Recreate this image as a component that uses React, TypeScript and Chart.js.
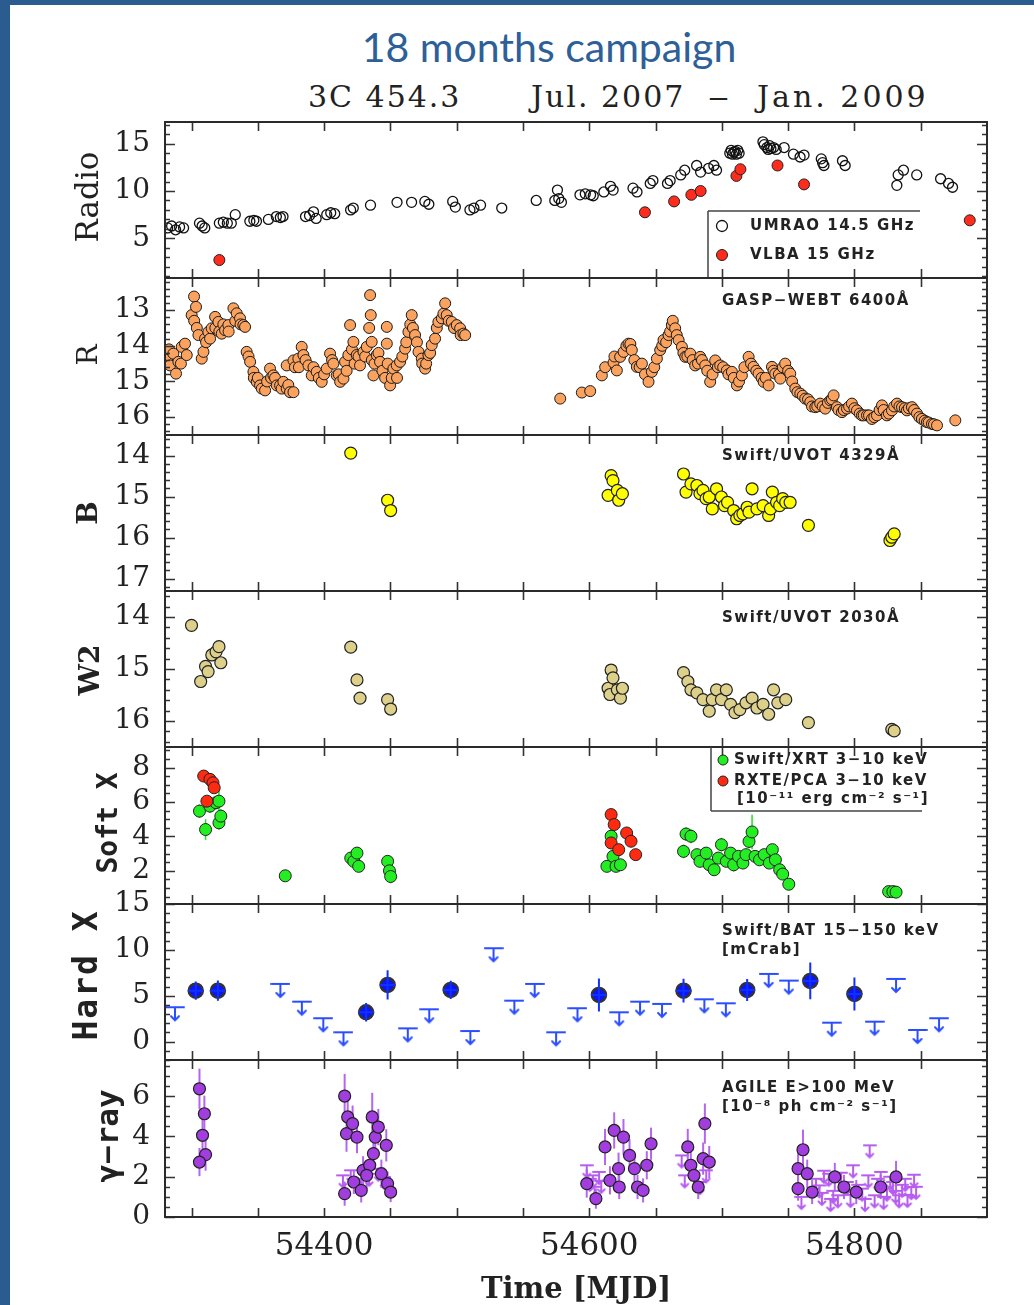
import { useEffect, useRef } from 'react';
import { Chart, registerables } from 'chart.js';

Chart.register(...registerables);

// ---- time axis (MJD) ----
const MJD_MIN = 54280;
const MJD_MAX = 54900;
const MJD_TICK_STEP = 50;
const MJD_LABELS = [54400, 54600, 54800];

// ---- Radio: UMRAO 14.5 GHz [MJD, Jy] ----
const umrao: number[][] = [
  [54282, 6.1], [54285, 6.3], [54288, 5.9], [54291, 6.2], [54294, 6.1], [54306, 6.6], [54308, 6.3], [54310, 6.1],
  [54321, 6.6], [54324, 6.7], [54327, 6.6], [54330, 6.6], [54333, 7.5], [54344, 6.8], [54347, 6.9], [54349, 6.8],
  [54358, 7.0], [54364, 7.3], [54367, 7.2], [54369, 7.3], [54386, 7.3], [54389, 7.4], [54392, 7.8], [54394, 7.1],
  [54402, 7.5], [54405, 7.7], [54408, 7.6], [54420, 8.0], [54422, 8.2], [54435, 8.5], [54455, 8.8], [54466, 8.8],
  [54476, 8.9], [54479, 8.6], [54497, 8.9], [54499, 8.3], [54510, 8.0], [54513, 8.2], [54518, 8.5], [54534, 8.2],
  [54560, 9.0], [54574, 9.0], [54576, 10.1], [54577, 9.2], [54579, 8.8], [54593, 9.6], [54597, 9.7], [54601, 9.6],
  [54603, 9.5], [54611, 9.9], [54616, 10.5], [54618, 10.1], [54633, 10.3], [54636, 9.9], [54646, 10.8], [54648, 11.1],
  [54659, 10.8], [54661, 11.1], [54669, 11.7], [54672, 12.2], [54681, 12.7], [54684, 12.0], [54690, 12.4], [54694, 12.7],
  [54696, 12.2], [54706, 14.0], [54707, 14.3], [54708, 13.9], [54709, 14.1], [54710, 14.2], [54711, 13.9], [54712, 14.3],
  [54713, 14.0], [54731, 15.2], [54732, 14.9], [54734, 14.6], [54735, 14.4], [54736, 14.8], [54737, 14.5], [54739, 14.6],
  [54741, 14.4], [54747, 14.6], [54754, 13.9], [54759, 13.6], [54762, 13.8], [54775, 13.4], [54776, 13.0], [54777, 12.7],
  [54791, 13.2], [54793, 12.7], [54832, 10.6], [54833, 11.7], [54837, 12.2], [54847, 11.7], [54865, 11.3], [54871, 10.8],
  [54874, 10.4],
];

// ---- Radio: VLBA 15 GHz [MJD, Jy] ----
const vlba: number[][] = [
  [54321, 2.7], [54642, 7.75], [54664, 8.9], [54677, 9.6], [54684, 10.0], [54711, 11.6], [54714, 12.3],
  [54742, 12.7], [54762, 10.7], [54887, 6.9],
];

// ---- Optical R (GASP-WEBT) [MJD, mag] ----
const rBand: number[][] = [
  [54281.8, 14.36], [54283.8, 14.55], [54283, 14.1], [54286.3, 14.22], [54288.3, 14.78], [54290.1, 14.45], [54292, 14.5],
  [54292.6, 14.03], [54295.1, 13.94], [54296.4, 14.26], [54300.1, 13.14], [54301.9, 12.62], [54302, 13.3], [54303.4, 12.91],
  [54304, 13.5], [54305.2, 13.7], [54307.7, 14.36], [54309.0, 14.17], [54310.2, 13.8], [54311, 13.9], [54312.7, 13.61],
  [54314, 13.8], [54315.2, 13.51], [54317.8, 13.19], [54318, 13.5], [54320.3, 13.33], [54321, 13.6], [54322.8, 13.66],
  [54324, 13.4], [54325.3, 13.56], [54327.8, 13.42], [54328, 13.6], [54331.6, 12.95], [54333, 13.3], [54334.1, 13.09],
  [54336.6, 13.23], [54337, 13.4], [54339.1, 13.42], [54340.4, 13.47],
  [54341.6, 14.17], [54343, 14.3], [54344.2, 14.45], [54346.7, 14.73], [54347, 14.9], [54349.2, 15.01], [54350, 14.9],
  [54351.7, 15.11], [54353, 15.2], [54355.5, 15.25], [54357, 15.0], [54359.2, 14.64], [54360, 14.9], [54361.8, 14.83],
  [54363, 14.9], [54364.3, 15.11], [54366.8, 15.11], [54368, 15.2], [54369.3, 15.01], [54371.8, 15.2], [54371.8, 14.55],
  [54373, 15.1], [54374.3, 15.3], [54376.9, 15.3], [54376.9, 14.41], [54378, 14.6], [54380.6, 14.36], [54381, 14.6],
  [54383.1, 14.03], [54384.4, 14.26], [54386, 14.4], [54388.2, 14.55], [54390.7, 14.83], [54392, 14.6], [54394.4, 14.73],
  [54396, 14.9], [54398.2, 15.01], [54400, 14.8], [54402.0, 14.64], [54404.5, 14.22], [54406, 14.4], [54407.0, 14.5],
  [54409.5, 14.83], [54411, 14.8], [54412.1, 15.01], [54414.6, 14.92], [54415.8, 14.45], [54417, 14.7], [54418.3, 14.26],
  [54419.6, 13.42], [54421, 14.1], [54422.1, 13.89], [54423, 14.5], [54424.6, 14.26], [54426, 14.3], [54427.1, 14.55],
  [54429.7, 14.17], [54431, 14.3], [54432.2, 14.03], [54434, 13.5], [54434.7, 12.58], [54435.2, 13.14], [54435.9, 13.89],
  [54436, 14.4], [54437.2, 14.83], [54438, 14.5], [54439.7, 14.26], [54441, 14.2], [54442.2, 14.45], [54444, 14.7],
  [54446, 14.9], [54447.3, 13.47], [54447.3, 13.94], [54448, 14.5], [54449.8, 15.11], [54451, 14.9], [54452.3, 14.64],
  [54454.8, 14.55], [54455, 14.9], [54457.3, 14.45], [54459, 14.3], [54461.1, 14.08], [54462, 13.9], [54463.6, 13.61],
  [54465, 13.4], [54466.1, 13.14], [54467, 13.5], [54468.6, 13.7], [54470, 13.9], [54471.2, 14.17], [54473.7, 14.36],
  [54474, 14.5], [54476.2, 14.64], [54477, 14.5], [54478.7, 14.26], [54480, 14.2], [54481.2, 13.98], [54483.7, 13.8],
  [54485, 13.5], [54486.2, 13.33], [54488.8, 13.23], [54490, 13.1], [54491.3, 12.81], [54492.5, 13.14], [54494, 13.3],
  [54496.3, 13.33], [54498, 13.5], [54500.1, 13.42], [54502.6, 13.51], [54503, 13.7], [54505.1, 13.66], [54506.4, 13.7],
  [54578.1, 15.48], [54594.4, 15.31], [54600.7, 15.27], [54609.5, 14.83], [54612, 14.6], [54618.3, 14.47], [54619, 14.3],
  [54620.8, 14.69], [54623.3, 14.31], [54625.9, 14.17], [54628, 14.0], [54629.6, 13.94], [54631, 13.95], [54632.1, 14.12],
  [54634, 14.4], [54635.9, 14.59], [54638, 14.6], [54639.7, 14.5], [54642, 14.8], [54644.7, 15.01], [54647.2, 14.73],
  [54649, 14.6], [54651.0, 14.36], [54653.5, 14.12], [54655, 14.0], [54656.0, 13.84], [54658, 13.9], [54659.8, 13.7],
  [54661, 13.6], [54662.3, 13.42], [54663, 13.3], [54664.8, 13.51], [54666, 13.7], [54667.4, 13.84], [54669.9, 14.03],
  [54671, 14.2], [54672.4, 14.31], [54674, 14.3], [54676.2, 14.22], [54678, 14.4], [54679.9, 14.55], [54682, 14.5],
  [54683.7, 14.31], [54685, 14.4], [54687.5, 14.55], [54689, 14.7], [54691.2, 15.01], [54693, 14.8], [54695.0, 14.41],
  [54697, 14.6], [54698.8, 14.55], [54701, 14.6], [54703.8, 14.69], [54705, 14.8], [54707.6, 14.73], [54709, 14.9],
  [54711.4, 15.11], [54713, 15.0], [54715.1, 14.83], [54717, 14.6], [54720.2, 14.31], [54722, 14.5], [54723.9, 14.59],
  [54726, 14.7], [54727.7, 14.78], [54730, 14.9], [54731.5, 15.01], [54733, 14.9], [54735.3, 15.11], [54737.8, 14.59],
  [54739, 14.7], [54740.3, 14.78], [54743, 14.8], [54744.1, 14.92], [54746, 14.6], [54747.8, 14.5], [54750, 14.7],
  [54751.6, 14.78], [54753, 15.0], [54755.4, 15.2], [54757, 15.3], [54759.2, 15.34], [54761, 15.4], [54762.9, 15.48],
  [54765, 15.5], [54766.7, 15.58], [54768, 15.7], [54770.5, 15.72], [54772, 15.7], [54774.2, 15.62], [54776, 15.7],
  [54778.0, 15.76], [54780, 15.6], [54781.8, 15.53], [54783, 15.5], [54784.3, 15.39], [54786.8, 15.72], [54788, 15.8],
  [54790.6, 15.86], [54792, 15.8], [54794.4, 15.76], [54796, 15.7], [54798.1, 15.62], [54800, 15.75], [54801.9, 15.81],
  [54804, 15.9], [54805.7, 15.95], [54807, 15.95], [54809.5, 15.95], [54811, 15.95], [54813.2, 16.05], [54815, 16.0],
  [54817.0, 15.95], [54819, 15.8], [54820.8, 15.67], [54822, 15.8], [54824.5, 15.95], [54826, 15.9], [54828.3, 15.81],
  [54830, 15.7], [54832.1, 15.62], [54834, 15.7], [54835.9, 15.72], [54838, 15.75], [54839.6, 15.81], [54841, 15.75],
  [54843.4, 15.72], [54845, 15.8], [54847.2, 15.9], [54849, 16.0], [54850.9, 16.05], [54853, 16.1], [54854.7, 16.14],
  [54856, 16.15], [54858.5, 16.19], [54860, 16.2], [54862.3, 16.23], [54876.1, 16.09],
];

// ---- Swift/UVOT B [MJD, mag] ----
const bBand: number[][] = [
  [54420.1, 13.94], [54447.9, 15.09], [54450.2, 15.34],
  [54614.2, 14.97], [54616.5, 14.49], [54617.9, 14.61], [54621.2, 14.85], [54622.2, 15.09], [54625.0, 14.93],
  [54671.1, 14.45], [54673.0, 14.89], [54676.7, 14.69], [54681.2, 14.73], [54683.5, 14.93], [54685.8, 14.85],
  [54688.1, 15.05], [54690.5, 15.01], [54692.8, 15.3], [54696.0, 14.81], [54699.7, 15.01], [54702.0, 15.22],
  [54704.3, 15.14], [54708.9, 15.34], [54711.2, 15.54], [54713.6, 15.46], [54715.9, 15.42], [54719.1, 15.26],
  [54720.5, 15.38], [54722.8, 14.81], [54726.5, 15.3], [54731.1, 15.22], [54735.3, 15.46], [54736.7, 15.3],
  [54738.1, 14.89], [54741.3, 15.14], [54743.6, 15.22], [54745.9, 15.05], [54748.2, 15.14], [54751.5, 15.14],
  [54765.3, 15.7], [54826.8, 16.07], [54828.2, 15.99], [54830.0, 15.91],
];

// ---- Swift/UVOT W2 [MJD, mag] ----
const w2Band: number[][] = [
  [54300.0, 14.16], [54306.9, 15.24], [54310.6, 14.95], [54312.5, 15.05], [54315.3, 14.73], [54318.5, 14.67],
  [54320.7, 14.57], [54322.1, 14.88],
  [54420.1, 14.58], [54424.8, 15.21], [54427.1, 15.56], [54447.9, 15.59], [54450.2, 15.77],
  [54614.2, 15.37], [54615.6, 15.49], [54616.5, 15.02], [54617.9, 15.17], [54621.2, 15.4], [54623.5, 15.56], [54625.0, 15.37],
  [54671.1, 15.07], [54674.4, 15.24], [54676.7, 15.4], [54681.2, 15.46], [54685.8, 15.59], [54690.5, 15.81],
  [54692.8, 15.59], [54696.0, 15.4], [54699.7, 15.59], [54703.4, 15.4], [54706.6, 15.68], [54709.9, 15.84],
  [54713.6, 15.78], [54718.2, 15.65], [54722.8, 15.56], [54726.5, 15.75], [54731.1, 15.68], [54735.3, 15.87],
  [54739.0, 15.4], [54742.2, 15.65], [54748.2, 15.59], [54765.3, 16.03], [54828.2, 16.16], [54830.0, 16.19],
];

// ---- Soft X-rays, 3-10 keV [MJD, 1e-11 erg/cm2/s, error] ----
const xrtSoft: number[][] = [
  [54306.0, 5.47, 0.4], [54310.6, 4.4, 0.6], [54313.9, 5.76, 0.4], [54318.5, 5.96, 0.4], [54320.7, 6.05, 0.6],
  [54320.7, 4.79, 0.4], [54322.1, 5.18, 0.4], [54370.7, 1.71, 0.2],
  [54420.1, 2.74, 0.3], [54422.4, 2.55, 0.3], [54424.8, 3.03, 0.3], [54426.1, 2.26, 0.3],
  [54447.9, 2.55, 0.3], [54449.3, 2.0, 0.3], [54450.2, 1.67, 0.4],
  [54613.3, 2.26, 0.3], [54616.5, 4.01, 0.4], [54617.9, 2.84, 0.3], [54620.2, 2.26, 0.3], [54623.5, 2.35, 0.3],
  [54671.1, 3.13, 0.4], [54673.0, 4.14, 0.4], [54676.7, 4.01, 0.4], [54681.2, 2.94, 0.3], [54683.5, 2.55, 0.3],
  [54688.2, 3.03, 0.3], [54690.5, 2.35, 0.3], [54694.2, 2.06, 0.3], [54697.4, 2.74, 0.3], [54699.7, 3.52, 0.4],
  [54703.4, 2.55, 0.3], [54706.6, 3.03, 0.3], [54708.9, 2.35, 0.4], [54712.6, 2.84, 0.3], [54715.9, 2.45, 0.3],
  [54718.2, 2.94, 0.3], [54720.5, 3.71, 0.4], [54722.8, 4.26, 1.0], [54725.1, 2.84, 0.3], [54728.4, 2.64, 0.3],
  [54732.0, 2.94, 0.3], [54735.8, 2.45, 0.3], [54738.1, 3.23, 0.3], [54740.4, 2.64, 0.3], [54743.6, 2.06, 0.3],
  [54745.9, 1.81, 0.2], [54750.5, 1.22, 0.2], [54825.8, 0.79, 0.15], [54829.0, 0.79, 0.15], [54831.4, 0.76, 0.15],
];
const pcaSoft: number[][] = [
  [54309.2, 7.51], [54311.6, 6.05], [54313.9, 7.32], [54316.2, 7.12], [54317.1, 6.83],
  [54616.5, 5.27], [54618.8, 4.69], [54616.5, 3.62], [54622.2, 3.23], [54628.2, 4.2], [54631.5, 3.72], [54635.0, 2.94],
];

// ---- Hard X-rays, Swift/BAT 15-150 keV [MJD, mCrab, error] ----
const BAT_BIN_HALF = 6;
const batDet: number[][] = [
  [54303.2, 5.56, 1.0], [54319.9, 5.56, 1.1], [54431.7, 3.2, 1.0], [54447.9, 6.18, 1.6], [54495.5, 5.64, 1.0],
  [54607.3, 5.09, 1.8], [54671.1, 5.56, 1.3], [54719.1, 5.64, 1.2], [54766.7, 6.62, 2.0], [54800.0, 5.2, 1.8],
];
const batUpper: number[][] = [
  [54287.5, 3.75], [54367.0, 6.29], [54383.2, 4.36], [54399.4, 2.55], [54414.6, 1.02], [54463.1, 1.45],
  [54479.3, 3.53], [54510.3, 1.16], [54527.8, 10.18], [54543.5, 4.47], [54558.8, 6.29], [54575.0, 1.02],
  [54591.1, 3.64], [54622.6, 3.2], [54638.3, 4.36], [54654.9, 4.11], [54686.8, 4.62], [54703.0, 4.18],
  [54735.3, 7.38], [54750.5, 6.65], [54782.9, 2.07], [54815.2, 2.18], [54831.4, 6.84], [54847.6, 1.27],
  [54863.8, 2.55],
];

// ---- Gamma-rays, AGILE E>100 MeV [MJD, 1e-8 ph/cm2/s, error] ----
const agileDet: number[][] = [
  [54306.0, 6.37, 1.0], [54309.7, 5.13, 0.9], [54308.3, 4.06, 0.8], [54310.6, 3.1, 0.8], [54306.0, 2.73, 0.7],
  [54415.5, 6.01, 1.1], [54417.8, 4.97, 1.0], [54416.9, 4.14, 0.9], [54421.5, 4.64, 0.9], [54424.8, 3.97, 0.8],
  [54415.5, 1.16, 0.6], [54422.4, 1.74, 0.6], [54428.0, 1.32, 0.6], [54429.4, 2.32, 0.7], [54436.3, 4.97, 1.2],
  [54438.6, 3.97, 0.9], [54440.9, 4.47, 0.9], [54437.2, 3.15, 0.8], [54443.2, 2.15, 0.7], [54446.9, 3.56, 0.8],
  [54447.9, 1.66, 0.6], [54450.2, 1.24, 0.5], [54434.4, 2.57, 0.7], [54432.1, 2.07, 0.7],
  [54598.1, 1.66, 0.7], [54605.0, 0.91, 0.5], [54611.9, 3.48, 0.9], [54615.6, 1.82, 0.7], [54618.8, 4.3, 0.9],
  [54622.1, 2.4, 0.8], [54622.6, 1.49, 0.6], [54625.8, 3.97, 0.9], [54630.4, 3.06, 0.8], [54634.1, 2.4, 0.7],
  [54636.4, 1.49, 0.6], [54640.6, 1.32, 0.6], [54643.4, 2.57, 0.7], [54646.6, 3.64, 0.8],
  [54674.3, 3.48, 0.9], [54676.6, 2.57, 0.8], [54679.0, 2.07, 0.7], [54682.2, 1.49, 0.6], [54685.9, 2.9, 0.8],
  [54687.2, 4.64, 1.0], [54690.5, 2.73, 0.8],
  [54757.5, 2.4, 0.8], [54757.5, 1.41, 0.6], [54761.2, 3.34, 1.0], [54764.4, 2.15, 0.7], [54768.1, 1.24, 0.6],
  [54785.2, 1.99, 0.7], [54792.1, 1.49, 0.6], [54801.4, 1.24, 0.6], [54819.8, 1.49, 0.6], [54831.4, 1.99, 0.8],
];
const agileUpper: number[][] = [
  [54414.2, 2.07], [54420.1, 2.32], [54427.0, 1.9], [54434.0, 2.15], [54440.9, 2.4], [54445.5, 1.99],
  [54598.1, 2.57], [54600.5, 1.9], [54602.7, 2.07], [54604.0, 1.5], [54607.4, 2.24], [54609.0, 1.8],
  [54669.7, 3.06], [54672.0, 2.07], [54683.6, 1.74], [54688.2, 2.32],
  [54760.0, 1.0], [54771.0, 1.9], [54773.7, 1.57], [54775.5, 1.2], [54777.0, 2.3], [54780.6, 2.15], [54782.0, 0.9],
  [54784.0, 1.3], [54787.5, 1.08], [54790.0, 2.2], [54794.4, 1.74], [54797.0, 1.1], [54799.0, 2.57], [54803.0, 1.6],
  [54805.9, 1.41], [54808.0, 0.9], [54810.5, 2.07], [54811.5, 3.56], [54815.2, 1.08], [54817.5, 1.9], [54819.8, 2.24],
  [54822.0, 1.0], [54824.5, 1.41], [54827.0, 2.0], [54829.0, 1.74], [54831.0, 1.3], [54833.7, 1.08], [54836.0, 1.6],
  [54838.3, 1.9], [54840.0, 1.1], [54842.9, 1.49], [54845.0, 2.1], [54846.5, 1.5],
];

// ---- y-axis tick sets ----
const radioTicks = [5, 10, 15];
const rTicks = [13, 14, 15, 16];
const bTicks = [14, 15, 16, 17];
const w2Ticks = [14, 15, 16];
const softTicks = [2, 4, 6, 8];
const hardTicks = [0, 5, 10, 15];
const gammaTicks = [0, 2, 4, 6];

// ---- page layout ----
const PAGE_W = 1034;
const PAGE_H = 1305;
const PLOT_LEFT = 165;
const PLOT_RIGHT = 987;
const PANEL_EDGES = [122, 278, 435, 591, 747, 904, 1060, 1217];
const PAD = 20;
const INK = '#222';
const NOTE_FONT = 'bold 15px "DejaVu Sans"';

const toPoints = (rows: number[][], ex?: number) =>
  rows.map((r) => ({ x: r[0], y: r[1], e: r[2], ex }));

function upperLimitGlyph(color: string, barW: number, len: number, head: number, lw: number) {
  const w = barW + 2;
  const h = 2 * (len + 3);
  const c = document.createElement('canvas');
  c.width = w;
  c.height = h;
  const g = c.getContext('2d')!;
  const cy = h / 2;
  g.strokeStyle = color;
  g.lineWidth = lw;
  g.lineCap = 'round';
  g.beginPath();
  g.moveTo(1, cy);
  g.lineTo(w - 1, cy);
  g.moveTo(w / 2, cy);
  g.lineTo(w / 2, cy + len);
  g.moveTo(w / 2 - head, cy + len - head);
  g.lineTo(w / 2, cy + len);
  g.lineTo(w / 2 + head, cy + len - head);
  g.stroke();
  return c;
}

function drawErrorBars(chart: any, onTop: boolean) {
  const { ctx, chartArea: a } = chart;
  const xs = chart.scales.x;
  const ys = chart.scales.y;
  ctx.save();
  ctx.beginPath();
  ctx.rect(a.left, a.top, a.right - a.left, a.bottom - a.top);
  ctx.clip();
  chart.data.datasets.forEach((ds: any) => {
    if (!ds.errColor || !!ds.errOnTop !== onTop) return;
    ctx.strokeStyle = ds.errColor;
    ctx.lineWidth = ds.errWidth || 1.5;
    ds.data.forEach((p: any) => {
      const px = xs.getPixelForValue(p.x);
      const py = ys.getPixelForValue(p.y);
      ctx.beginPath();
      if (p.e) {
        ctx.moveTo(px, ys.getPixelForValue(p.y - p.e));
        ctx.lineTo(px, ys.getPixelForValue(p.y + p.e));
      }
      if (p.ex) {
        ctx.moveTo(xs.getPixelForValue(p.x - p.ex), py);
        ctx.lineTo(xs.getPixelForValue(p.x + p.ex), py);
      }
      ctx.stroke();
    });
  });
  ctx.restore();
}

function drawMarker(ctx: CanvasRenderingContext2D, m: any) {
  ctx.beginPath();
  ctx.arc(m.x, m.y, m.r, 0, Math.PI * 2);
  if (m.fill) {
    ctx.fillStyle = m.fill;
    ctx.fill();
  }
  ctx.strokeStyle = m.stroke || INK;
  ctx.lineWidth = m.lw || 1;
  ctx.stroke();
}

// Frame, inward ticks, axis label and panel notes
const panelDecor = {
  id: 'panelDecor',
  beforeDatasetsDraw(chart: any) {
    drawErrorBars(chart, false);
  },
  afterDatasetsDraw(chart: any) {
    drawErrorBars(chart, true);
    const o = chart.options.plugins.panelDecor;
    const { ctx, chartArea: a } = chart;
    const xs = chart.scales.x;
    const ys = chart.scales.y;
    const off = o.canvasTop;
    ctx.save();

    // ticks
    ctx.strokeStyle = '#333';
    ctx.lineWidth = 1.6;
    ctx.beginPath();
    for (let v = Math.ceil(MJD_MIN / MJD_TICK_STEP) * MJD_TICK_STEP; v < MJD_MAX; v += MJD_TICK_STEP) {
      const px = Math.round(xs.getPixelForValue(v)) + 0.5;
      ctx.moveTo(px, a.top);
      ctx.lineTo(px, a.top + 9);
      ctx.moveTo(px, a.bottom);
      ctx.lineTo(px, a.bottom - 9);
    }
    const lo = Math.min(ys.min, ys.max);
    const hi = Math.max(ys.min, ys.max);
    for (let k = Math.ceil(lo / o.minorStep - 1e-6); k * o.minorStep <= hi + 1e-6; k++) {
      const v = k * o.minorStep;
      const major = o.majorTicks.some((t: number) => Math.abs(t - v) < 1e-6);
      const len = major ? 10 : 5;
      const py = Math.round(ys.getPixelForValue(v)) + 0.5;
      ctx.moveTo(a.left, py);
      ctx.lineTo(a.left + len, py);
      ctx.moveTo(a.right, py);
      ctx.lineTo(a.right - len, py);
    }
    ctx.stroke();

    // frame
    ctx.strokeStyle = '#2a2a2a';
    ctx.lineWidth = 2;
    ctx.strokeRect(a.left, a.top, a.right - a.left, a.bottom - a.top);

    // legend box lines
    if (o.boxLines) {
      ctx.strokeStyle = '#444';
      ctx.lineWidth = 1.5;
      ctx.beginPath();
      o.boxLines.forEach((l: number[]) => {
        ctx.moveTo(l[0], l[1] - off);
        ctx.lineTo(l[2], l[3] - off);
      });
      ctx.stroke();
    }

    // legend markers
    (o.markers || []).forEach((m: any) => drawMarker(ctx, { ...m, y: m.y - off }));

    // notes
    ctx.fillStyle = INK;
    ctx.textBaseline = 'middle';
    ctx.textAlign = 'left';
    ctx.font = NOTE_FONT;
    (ctx as any).letterSpacing = '1.5px';
    (o.notes || []).forEach((n: any) => ctx.fillText(n.text, n.x, n.y - off));

    // y-axis label
    const lab = o.label;
    ctx.font = lab.font;
    (ctx as any).letterSpacing = lab.spacing || '0px';
    ctx.textAlign = 'center';
    ctx.translate(lab.x, lab.y - off);
    ctx.rotate(-Math.PI / 2);
    ctx.fillText(lab.text, 0, 0);
    ctx.restore();
  },
};

interface PanelSpec {
  key: string;
  index: number;
  yMin: number;
  yMax: number;
  reverse?: boolean;
  majorTicks: number[];
  minorStep: number;
  label: any;
  notes?: any[];
  markers?: any[];
  boxLines?: number[][];
  datasets: () => any[];
}

const PANELS: PanelSpec[] = [
  {
    key: 'radio', index: 0, yMin: 0.8, yMax: 17.3, majorTicks: radioTicks, minorStep: 1,
    label: { text: 'Radio', x: 90, y: 197, font: '31px "DejaVu Serif"' },
    boxLines: [[708, 211, 920, 211], [708, 211, 708, 278]],
    markers: [
      { x: 722, y: 226, r: 5.5, lw: 1.3, stroke: '#111' },
      { x: 722, y: 255, r: 5.5, fill: '#ff2b1c', stroke: '#222' },
    ],
    notes: [
      { text: 'UMRAO 14.5 GHz', x: 750, y: 226 },
      { text: 'VLBA 15 GHz', x: 750, y: 255 },
    ],
    datasets: () => [
      { data: toPoints(vlba), backgroundColor: '#ff2b1c', borderColor: '#222', borderWidth: 1, pointRadius: 5.5 },
      { data: toPoints(umrao), backgroundColor: 'rgba(255,255,255,0)', borderColor: '#111', borderWidth: 1.3, pointRadius: 5 },
    ],
  },
  {
    key: 'r', index: 1, yMin: 12.1, yMax: 16.5, reverse: true, majorTicks: rTicks, minorStep: 0.2,
    label: { text: 'R', x: 90, y: 355, font: '28px "DejaVu Serif"' },
    notes: [{ text: 'GASP\u2212WEBT 6400\u00c5', x: 722, y: 301 }],
    datasets: () => [
      { data: toPoints(rBand), backgroundColor: '#fba35e', borderColor: '#1a1a1a', borderWidth: 1, pointRadius: 5.5 },
    ],
  },
  {
    key: 'b', index: 2, yMin: 13.5, yMax: 17.3, reverse: true, majorTicks: bTicks, minorStep: 0.2,
    label: { text: 'B', x: 90, y: 513, font: 'bold 28px "DejaVu Serif"' },
    notes: [{ text: 'Swift/UVOT 4329\u00c5', x: 722, y: 456 }],
    datasets: () => [
      { data: toPoints(bBand), backgroundColor: '#ffff00', borderColor: '#222', borderWidth: 1.2, pointRadius: 6 },
    ],
  },
  {
    key: 'w2', index: 3, yMin: 13.5, yMax: 16.5, reverse: true, majorTicks: w2Ticks, minorStep: 0.2,
    label: { text: 'W2', x: 92, y: 670, font: 'bold 28px "DejaVu Serif"' },
    notes: [{ text: 'Swift/UVOT 2030\u00c5', x: 722, y: 618 }],
    datasets: () => [
      { data: toPoints(w2Band), backgroundColor: '#ddd08a', borderColor: '#222', borderWidth: 1.2, pointRadius: 6 },
    ],
  },
  {
    key: 'soft', index: 4, yMin: 0.07, yMax: 9.2, majorTicks: softTicks, minorStep: 0.5,
    label: { text: 'Soft X', x: 110, y: 823, font: 'bold 28px "DejaVu Sans Mono"' },
    boxLines: [[711, 747, 711, 811], [711, 811, 922, 811]],
    markers: [
      { x: 723, y: 760, r: 5, fill: '#22ee22', stroke: '#222' },
      { x: 723, y: 781, r: 5, fill: '#ff2a10', stroke: '#222' },
    ],
    notes: [
      { text: 'Swift/XRT 3\u221210 keV', x: 734, y: 760 },
      { text: 'RXTE/PCA 3\u221210 keV', x: 734, y: 781 },
      { text: '[10\u207b\u00b9\u00b9 erg cm\u207b\u00b2 s\u207b\u00b9]', x: 737, y: 799 },
    ],
    datasets: () => [
      { data: toPoints(pcaSoft), backgroundColor: '#ff2a10', borderColor: '#222', borderWidth: 1, pointRadius: 6 },
      { data: toPoints(xrtSoft), backgroundColor: '#22ee22', borderColor: '#222', borderWidth: 1, pointRadius: 6, errColor: '#22dd22', errWidth: 1.5 },
    ],
  },
  {
    key: 'hard', index: 5, yMin: -2, yMax: 15, majorTicks: hardTicks, minorStep: 1,
    label: { text: 'Hard X', x: 88, y: 975, font: 'bold 33px "DejaVu Sans Mono"', spacing: '2px' },
    notes: [
      { text: 'Swift/BAT 15\u2212150 keV', x: 722, y: 931 },
      { text: '[mCrab]', x: 722, y: 950 },
    ],
    datasets: () => [
      { data: toPoints(batDet, BAT_BIN_HALF), backgroundColor: '#0a14ff', borderColor: '#333', borderWidth: 2.5, pointRadius: 7, errColor: '#1030ff', errOnTop: true, errWidth: 2 },
      { data: toPoints(batUpper), pointStyle: upperLimitGlyph('#2a4dff', 18, 13, 4, 2), pointRadius: 8 },
    ],
  },
  {
    key: 'gamma', index: 6, yMin: 0, yMax: 7.8, majorTicks: gammaTicks, minorStep: 0.5,
    label: { text: '\u03b3\u2212ray', x: 110, y: 1136, font: 'bold 31px "DejaVu Sans Mono"' },
    notes: [
      { text: 'AGILE E>100 MeV', x: 722, y: 1088 },
      { text: '[10\u207b\u2078 ph cm\u207b\u00b2 s\u207b\u00b9]', x: 722, y: 1107 },
    ],
    datasets: () => [
      { data: toPoints(agileDet), backgroundColor: '#a23ee0', borderColor: '#222', borderWidth: 1.2, pointRadius: 6, errColor: '#b466f0', errWidth: 2 },
      { data: toPoints(agileUpper), pointStyle: upperLimitGlyph('#b65cf0', 12, 12, 3.5, 2), pointRadius: 7 },
    ],
  },
];

function canvasBox(spec: PanelSpec) {
  const top = PANEL_EDGES[spec.index];
  const bottom = PANEL_EDGES[spec.index + 1];
  const isBottom = spec.index === PANELS.length - 1;
  const canvasTop = top - PAD;
  const canvasH = isBottom ? PAGE_H - canvasTop : bottom - top + 2 * PAD;
  return { canvasTop, canvasH, isBottom, xAxisH: isBottom ? canvasTop + canvasH - bottom : 0 };
}

// keep the plot rectangle fixed: no extra room for tick-label overhang
const noOverhang = (s: any) => {
  s.paddingTop = 0;
  s.paddingBottom = 0;
  s.paddingLeft = 0;
  s.paddingRight = 0;
};

function buildConfig(spec: PanelSpec): any {
  const { canvasTop, isBottom, xAxisH } = canvasBox(spec);
  return {
    type: 'scatter',
    data: { datasets: spec.datasets() },
    options: {
      responsive: false,
      animation: false,
      devicePixelRatio: 1,
      events: [],
      layout: { padding: { left: 0, right: PAGE_W - PLOT_RIGHT, top: PAD, bottom: isBottom ? 0 : PAD } },
      plugins: {
        legend: { display: false },
        tooltip: { enabled: false },
        panelDecor: {
          canvasTop,
          majorTicks: spec.majorTicks,
          minorStep: spec.minorStep,
          label: spec.label,
          notes: spec.notes,
          markers: spec.markers,
          boxLines: spec.boxLines,
        },
      },
      scales: {
        x: {
          type: 'linear',
          min: MJD_MIN,
          max: MJD_MAX,
          display: isBottom,
          grid: { display: false, drawTicks: false },
          border: { display: false },
          afterBuildTicks: (s: any) => {
            s.ticks = MJD_LABELS.map((v) => ({ value: v }));
          },
          afterFit: (s: any) => {
            s.height = xAxisH;
            noOverhang(s);
          },
          ticks: {
            font: { family: 'DejaVu Serif', size: 31 },
            color: INK,
            padding: 11,
            maxRotation: 0,
            autoSkip: false,
            callback: (v: any) => String(v),
          },
          title: {
            display: true,
            text: 'Time [MJD]',
            color: INK,
            font: { family: 'DejaVu Serif', size: 29, weight: 'bold', lineHeight: 1 },
            padding: { top: 0, bottom: 0 },
          },
        },
        y: {
          type: 'linear',
          min: spec.yMin,
          max: spec.yMax,
          reverse: !!spec.reverse,
          grid: { display: false, drawTicks: false },
          border: { display: false },
          afterBuildTicks: (s: any) => {
            s.ticks = spec.majorTicks.map((v) => ({ value: v }));
          },
          afterFit: (s: any) => {
            s.width = PLOT_LEFT;
            noOverhang(s);
          },
          ticks: {
            font: { family: 'DejaVu Serif', size: 28 },
            color: INK,
            padding: 15,
            autoSkip: false,
            callback: (v: any) => String(v),
          },
        },
      },
    },
    plugins: [panelDecor],
  };
}

function Panel({ spec }: { spec: PanelSpec }) {
  const ref = useRef<HTMLCanvasElement>(null);
  const { canvasTop, canvasH } = canvasBox(spec);
  useEffect(() => {
    const chart = new Chart(ref.current as HTMLCanvasElement, buildConfig(spec));
    return () => chart.destroy();
  }, [spec]);
  return (
    <canvas
      ref={ref}
      width={PAGE_W}
      height={canvasH}
      style={{ position: 'absolute', left: 0, top: canvasTop, width: PAGE_W, height: canvasH }}
    />
  );
}

export default function App() {
  const blue = '#2b5c8f';
  const subtitle = { position: 'absolute' as const, top: 81, whiteSpace: 'pre' as const, font: '30px "DejaVu Serif"', lineHeight: '32px', color: INK, letterSpacing: '2px' };
  return (
    <div style={{ position: 'absolute', left: 0, top: 0, width: PAGE_W, height: PAGE_H, background: '#fff', overflow: 'hidden' }}>
      <div style={{ position: 'absolute', left: 0, top: 0, width: PAGE_W, height: 5, background: blue }} />
      <div style={{ position: 'absolute', left: 0, top: 0, width: 10, height: PAGE_H, background: blue }} />
      <div
        style={{
          position: 'absolute', left: 549, top: 26, transform: 'translateX(-50%)', whiteSpace: 'nowrap',
          font: '41px Lato, "Open Sans", sans-serif', lineHeight: '42px', color: '#2e6098',
        }}
      >
        18 months campaign
      </div>
      <div style={{ ...subtitle, left: 308 }}>3C 454.3</div>
      <div style={{ ...subtitle, left: 531 }}>Jul. 2007</div>
      <div style={{ ...subtitle, left: 708, transform: 'scaleX(1.4)', transformOrigin: 'left center' }}>{'\u2013'}</div>
      <div style={{ ...subtitle, left: 757, letterSpacing: '3px' }}>Jan. 2009</div>
      {PANELS.map((p) => (
        <Panel key={p.key} spec={p} />
      ))}
    </div>
  );
}
